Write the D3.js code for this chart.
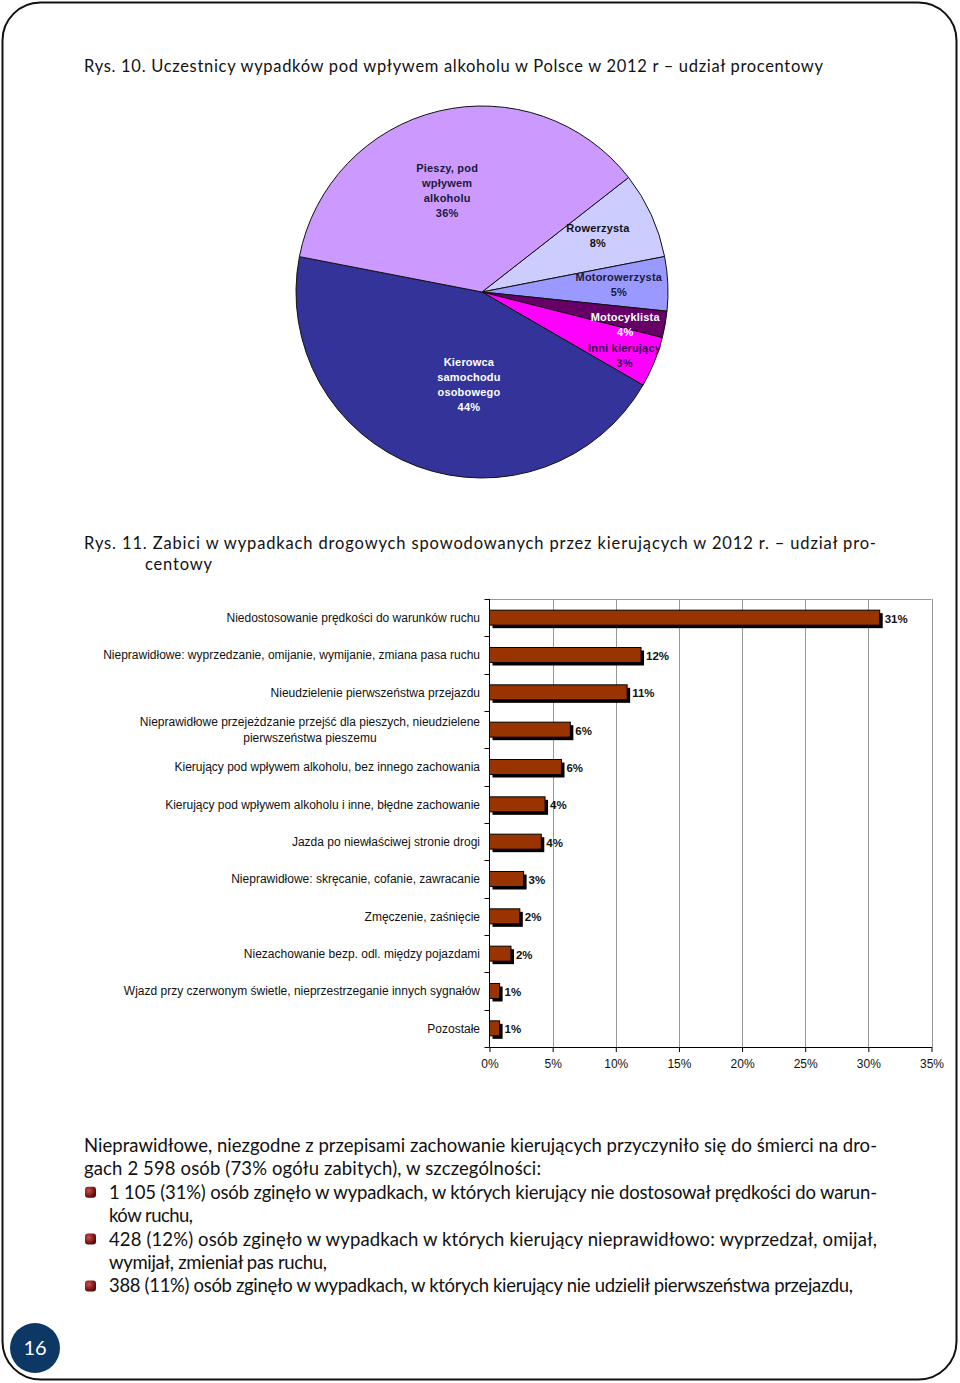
<!DOCTYPE html>
<html><head><meta charset="utf-8">
<script src="https://cdn.jsdelivr.net/npm/d3@7"></script>
<style>body{margin:0;background:#fff}svg{display:block}</style>
</head><body>
<script>
// ---------- data ----------
const title1 = "Rys. 10. Uczestnicy wypadków pod wpływem alkoholu w Polsce w 2012 r – udział procentowy";
const title2 = ["Rys. 11. Zabici w wypadkach drogowych spowodowanych przez kierujących w 2012 r. – udział pro-", "centowy"];

const pieNames = [["Rowerzysta"], ["Motorowerzysta"], ["Motocyklista"], ["Inni kierujący"], ["Kierowca","samochodu","osobowego"], ["Pieszy, pod","wpływem","alkoholu"]];
const pieValues = [7.5, 4.7, 2.3, 4.4, 44.7, 36.4];       // slice sizes as drawn
const piePctLabels = ["8%", "5%", "4%", "3%", "44%", "36%"]; // printed labels
const pieColors = ["#CCCCFF", "#9999FF", "#660066", "#FF00FF", "#333399", "#CC99FF"];

const barCategories = [
  "Niedostosowanie prędkości do warunków ruchu",
  "Nieprawidłowe: wyprzedzanie, omijanie, wymijanie, zmiana pasa ruchu",
  "Nieudzielenie pierwszeństwa przejazdu",
  "Nieprawidłowe przejeżdzanie przejść dla pieszych, nieudzielene\npierwszeństwa pieszemu",
  "Kierujący pod wpływem alkoholu, bez innego zachowania",
  "Kierujący pod wpływem alkoholu i inne, błędne zachowanie",
  "Jazda po niewłaściwej stronie drogi",
  "Nieprawidłowe: skręcanie, cofanie, zawracanie",
  "Zmęczenie, zaśnięcie",
  "Niezachowanie bezp. odl. między pojazdami",
  "Wjazd przy czerwonym świetle, nieprzestrzeganie innych sygnałów",
  "Pozostałe"
];
const barValues = [30.9, 12.0, 10.9, 6.4, 5.7, 4.4, 4.1, 2.7, 2.4, 1.7, 0.8, 0.8];
const xTicks = [0, 5, 10, 15, 20, 25, 30, 35];

const bodyLines = [
  "Nieprawidłowe, niezgodne z przepisami zachowanie kierujących przyczyniło się do śmierci na dro-",
  "gach 2 598 osób (73% ogółu zabitych), w szczególności:",
  "1 105 (31%) osób zginęło w wypadkach, w których kierujący nie dostosował prędkości do warun-",
  "ków ruchu,",
  "428 (12%) osób zginęło w wypadkach w których kierujący nieprawidłowo: wyprzedzał, omijał,",
  "wymijał, zmieniał pas ruchu,",
  "388 (11%) osób zginęło w wypadkach, w których kierujący nie udzielił pierwszeństwa przejazdu,"
];
const bodyBullet = [false, false, true, false, true, false, true];
const bodyIndent = [false, false, true, true, true, true, true];
const bodyWidths = [793, 457, 768, 84, 768, 218, 744];
const pageNumber = "16";

// ---------- drawing ----------
const W = 960, H = 1383;
const svg = d3.select("body").append("svg").attr("width", W).attr("height", H);
const defs = svg.append("defs");
const rg = defs.append("radialGradient").attr("id", "bul").attr("cx", "35%").attr("cy", "35%").attr("r", "70%");
rg.append("stop").attr("offset", "0%").attr("stop-color", "#c85050");
rg.append("stop").attr("offset", "60%").attr("stop-color", "#8a1c1c");
rg.append("stop").attr("offset", "100%").attr("stop-color", "#4a0808");

// page border
svg.append("rect").attr("x", 2.5).attr("y", 2.5).attr("width", 954).attr("height", 1377)
  .attr("rx", 38).attr("ry", 38).attr("fill", "none").attr("stroke", "#111").attr("stroke-width", 2);

const serifish = "Lato, 'Open Sans', sans-serif";
svg.append("text").attr("x", 84).attr("y", 72).attr("font-family", serifish).attr("font-size", 16.5)
  .attr("fill", "#111").attr("textLength", 739).attr("lengthAdjust", "spacing").text(title1);

// ---------- pie ----------
const cx = 482, cy = 292, R = 186;
const start = 52 * Math.PI / 180;
const pie = d3.pie().sort(null).value(d => d).startAngle(start).endAngle(start + 2 * Math.PI);
const arcs = pie(pieValues);
const arc = d3.arc().innerRadius(0).outerRadius(R);
const gp = svg.append("g").attr("transform", `translate(${cx},${cy})`);
gp.selectAll("path").data(arcs).join("path")
  .attr("d", arc).attr("fill", (d, i) => pieColors[i]).attr("stroke", "#111").attr("stroke-width", 1);

// label placement (angle in degrees clockwise from north, radius in px)
const labelPlace = [[64, 129], [87, 137], [103, 147], [114, 156], [188, 94], [341, 107]];
const labelColor = ["#111", "#1a1a3a", "#fff", "#3a0a4a", "#fff", "#1a1a3a"];
arcs.forEach((a, i) => {
  const [ang, rr] = labelPlace[i];
  const t = ang * Math.PI / 180;
  const lx = rr * Math.sin(t), ly = -rr * Math.cos(t);
  const lines = pieNames[i].concat([piePctLabels[i]]);
  const lh = 15;
  const y0 = ly - (lines.length - 1) * lh / 2;
  const tx = gp.append("text").attr("font-family", "'Liberation Sans', Arial, sans-serif")
    .attr("font-size", 11).attr("font-weight", "bold").attr("fill", labelColor[i])
    .attr("text-anchor", "middle").attr("letter-spacing", 0.2);
  lines.forEach((l, k) => tx.append("tspan").attr("x", lx).attr("y", y0 + k * lh).attr("dy", "0.35em").text(l));
});

// ---------- title 2 ----------
svg.append("text").attr("x", 84).attr("y", 549).attr("font-family", serifish).attr("font-size", 16.5)
  .attr("fill", "#111").attr("textLength", 792).attr("lengthAdjust", "spacing").text(title2[0]);
svg.append("text").attr("x", 145).attr("y", 570).attr("font-family", serifish).attr("font-size", 16.5)
  .attr("fill", "#111").attr("textLength", 67).attr("lengthAdjust", "spacing").text(title2[1]);

// ---------- bar chart ----------
const x = d3.scaleLinear().domain([0, 35]).range([489.5, 931.5]);
const y = d3.scaleBand().domain(barCategories).range([599, 1047]).padding(0);
const gb = svg.append("g");
const arial = "'Liberation Sans', Arial, sans-serif";

// gridlines
gb.selectAll("line.grid").data(xTicks.slice(1)).join("line").attr("class", "grid")
  .attr("x1", d => Math.round(x(d)) + 0.5).attr("x2", d => Math.round(x(d)) + 0.5)
  .attr("y1", 599).attr("y2", 1047).attr("stroke", "#999").attr("stroke-width", 1);
gb.append("line").attr("x1", x(0)).attr("x2", x(35)).attr("y1", 599.5).attr("y2", 599.5)
  .attr("stroke", "#999");

// bars
const bh = 15;
const bars = gb.selectAll("g.bar").data(barValues).join("g").attr("class", "bar");
bars.append("rect").attr("x", x(0) + 3).attr("y", (d, i) => y(barCategories[i]) + y.bandwidth() / 2 - bh / 2 + 3)
  .attr("width", d => x(d) - x(0)).attr("height", bh).attr("fill", "#000");
bars.append("rect").attr("x", x(0)).attr("y", (d, i) => y(barCategories[i]) + y.bandwidth() / 2 - bh / 2)
  .attr("width", d => x(d) - x(0)).attr("height", bh).attr("fill", "#993300")
  .attr("stroke", "#000").attr("stroke-width", 1);
bars.append("text").attr("x", d => x(d) + 5).attr("y", (d, i) => y(barCategories[i]) + y.bandwidth() / 2 + 1)
  .attr("dy", "0.35em").attr("font-family", arial).attr("font-size", 11.5).attr("font-weight", "bold")
  .attr("fill", "#111").text(d => Math.round(d) + "%");

// axes
const xAxis = d3.axisBottom(x).tickValues(xTicks).tickFormat(d => d + "%").tickSize(5).tickSizeOuter(0);
const gx = gb.append("g").attr("transform", "translate(0,1047)").call(xAxis);
gx.select(".domain").attr("stroke", "#000");
gx.selectAll(".tick line").attr("stroke", "#000");
gx.selectAll(".tick text").attr("font-family", arial).attr("font-size", 12).attr("fill", "#111").attr("dy", "1.1em");

gb.append("line").attr("x1", x(0)).attr("x2", x(0)).attr("y1", 599).attr("y2", 1047).attr("stroke", "#000");
const bounds = barCategories.map(c => y(c)).concat([1047]);
gb.selectAll("line.ytick").data(bounds).join("line").attr("class", "ytick")
  .attr("x1", x(0) - 5).attr("x2", x(0)).attr("y1", d => Math.round(d) + 0.5).attr("y2", d => Math.round(d) + 0.5)
  .attr("stroke", "#000");

// category labels
barCategories.forEach(c => {
  const lines = c.split("\n");
  const cyy = y(c) + y.bandwidth() / 2;
  const lh = 16;
  const t = gb.append("text").attr("font-family", arial).attr("font-size", 12).attr("fill", "#111");
  const spans = lines.map((l, k) => t.append("tspan").attr("y", cyy - (lines.length - 1) * lh / 2 + k * lh)
    .attr("dy", "0.35em").text(l));
  const widths = spans.map(s => s.node().getComputedTextLength());
  const maxW = d3.max(widths);
  const center = 480 - maxW / 2;
  spans.forEach(s => s.attr("x", center).attr("text-anchor", "middle"));
});

// ---------- body text ----------
const baseY = 1152, lineH = 23.4;
bodyLines.forEach((l, i) => {
  const yy = baseY + i * lineH;
  const xx = bodyIndent[i] ? 109 : 84;
  svg.append("text").attr("x", xx).attr("y", yy).attr("font-family", serifish).attr("font-size", 18.5)
    .attr("fill", "#111").attr("textLength", bodyWidths[i]).attr("lengthAdjust", "spacing").text(l);
  if (bodyBullet[i]) {
    svg.append("rect").attr("x", 85).attr("y", yy - 12).attr("width", 11).attr("height", 11)
      .attr("rx", 3).attr("fill", "url(#bul)");
  }
});

// page number
svg.append("circle").attr("cx", 35).attr("cy", 1348).attr("r", 25).attr("fill", "#0d3764");
svg.append("text").attr("x", 35).attr("y", 1348).attr("dy", "0.35em").attr("text-anchor", "middle")
  .attr("font-family", serifish).attr("font-size", 20).attr("fill", "#fff").text(pageNumber);
</script>
</body></html>
